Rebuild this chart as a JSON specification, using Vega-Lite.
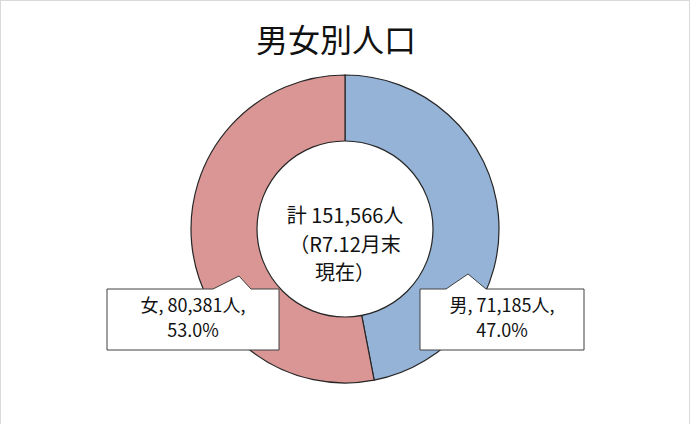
{
  "$schema": "https://vega.github.io/schema/vega-lite/v6.json",
  "width": 690,
  "height": 458,
  "autosize": "none",
  "padding": {"top": 0, "left": 0, "right": 0, "bottom": -34},
  "background": "white",
  "title": {
    "text": "男女別人口",
    "font": "Noto Sans CJK JP",
    "fontSize": 32,
    "fontWeight": "normal",
    "color": "#111111",
    "anchor": "middle",
    "baseline": "middle",
    "offset": -7,
    "dy": 67,
    "dx": -9
  },
  "data": {
    "values": [
      {"sex": "男", "count": 71185},
      {"sex": "女", "count": 80381}
    ]
  },
  "layer": [
    {
      "mark": {"type": "arc", "radius": 154, "stroke": "#262626", "strokeWidth": 1.2},
      "encoding": {
        "theta": {"field": "count", "type": "quantitative", "stack": true},
        "order": {"field": "sex", "sort": "descending"},
        "color": {
          "field": "sex",
          "type": "nominal",
          "scale": {"domain": ["男", "女"], "range": ["#95B3D7", "#D99694"]},
          "legend": null
        }
      }
    },
    {
      "transform": [{"aggregate": [{"op": "sum", "field": "count", "as": "total"}]}],
      "mark": {"type": "arc", "radius": 88, "theta": 0, "theta2": 6.2832, "fill": "white", "stroke": "#262626", "strokeWidth": 1.2},
      "encoding": {}
    },
    {
      "transform": [
        {"aggregate": [{"op": "sum", "field": "count", "as": "total"}]},
        {"calculate": "['計 ' + format(datum.total, ',') + '人', '（R7.12月末', '現在）']", "as": "lines"}
      ],
      "mark": {"type": "text", "font": "Noto Sans CJK JP", "fontSize": 20, "lineHeight": 28.5, "align": "center", "baseline": "middle", "dy": -12, "color": "#111111"},
      "encoding": {"text": {"field": "lines"}}
    },
    {
      "mark": {"type": "point", "filled": true, "fill": "black", "opacity": 0.22, "strokeWidth": 0, "size": 4},
      "encoding": {
        "x": {"field": "sex", "type": "nominal", "scale": {"type": "point", "domain": ["女", "男"], "range": [193, 502], "padding": 0}, "axis": null},
        "shape": {
          "field": "sex",
          "type": "nominal",
          "scale": {"domain": ["女", "男"], "range": ["M-86,60L20,60L46,47L58,60L86,60L86,121L-86,121Z", "M-82,60L-56,60L-34,45L-16,60L82,60L82,121L-82,121Z"]},
          "legend": null
        }
      }
    },
    {
      "mark": {"type": "point", "filled": true, "fill": "white", "opacity": 1, "stroke": "#404040", "strokeWidth": 1, "size": 4},
      "encoding": {
        "x": {"field": "sex", "type": "nominal"},
        "shape": {"field": "sex", "type": "nominal", "scale": {"domain": ["女", "男"], "range": ["M-89,57L17,57L43,44L55,57L83,57L83,118L-89,118Z", "M-85,57L-59,57L-37,42L-19,57L79,57L79,118L-85,118Z"]}, "legend": null}
      }
    },
    {
      "transform": [
        {"joinaggregate": [{"op": "sum", "field": "count", "as": "total"}]},
        {"calculate": "[datum.sex + ', ' + format(datum.count, ',') + '人,', format(datum.count / datum.total, '.1%')]", "as": "label"}
      ],
      "mark": {"type": "text", "font": "Noto Sans CJK JP", "fontSize": 18, "lineHeight": 25, "align": "center", "baseline": "middle", "dy": 78, "color": "#111111"},
      "encoding": {
        "x": {"field": "sex", "type": "nominal"},
        "text": {"field": "label"}
      }
    }
  ],
  "config": {"view": {"stroke": "#d9d9d9", "strokeWidth": 2}}
}
